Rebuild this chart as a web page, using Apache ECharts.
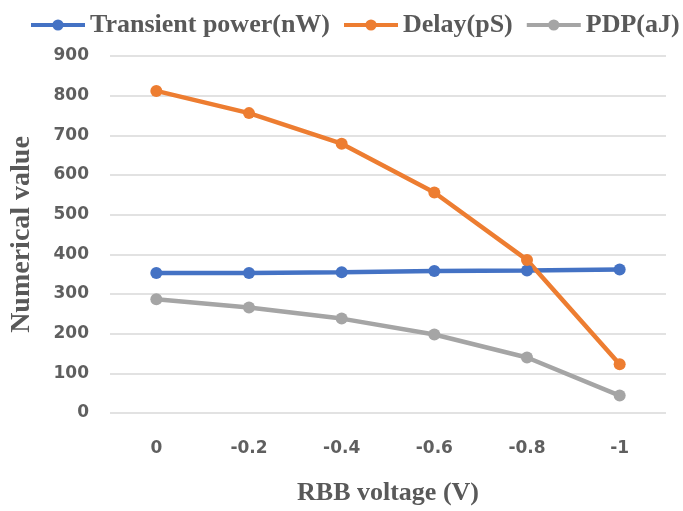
<!DOCTYPE html>
<html>
<head>
<meta charset="utf-8">
<script src="https://cdn.jsdelivr.net/npm/echarts@6/dist/echarts.min.js"></script>
<style>
  html, body { margin: 0; padding: 0; background: #fff; }
  #chart { width: 683px; height: 511px; }
</style>
</head>
<body>
<div id="chart"></div>
<script>
// Reverse body bias voltage sweep
const voltages = ['0', '-0.2', '-0.4', '-0.6', '-0.8', '-1'];
const transientPower = [353, 353, 355, 358, 359, 362];
const delay = [812, 756, 679, 556, 386, 123];
const pdp = [287, 266, 238, 198, 140, 44];

const serif = '"Liberation Serif", "Times New Roman", serif';
const sans = '"DejaVu Sans", sans-serif';
const textGrey = '#595959';

function lineSeries(name, data, color) {
  return {
    name: name,
    type: 'line',
    data: data,
    symbol: 'circle',
    symbolSize: 12,
    lineStyle: { width: 4.5, color: color },
    itemStyle: { color: color },
    emphasis: { disabled: true }
  };
}

const chart = echarts.init(document.getElementById('chart'));
chart.setOption({
  animation: false,
  color: ['#4472C4', '#ED7D31', '#A5A5A5'],
  legend: {
    left: 24,
    top: 7,
    width: 670,
    padding: 5,
    itemWidth: 54,
    itemHeight: 14,
    itemGap: 12,
    lineStyle: { width: 4 },
    textStyle: { fontFamily: serif, fontSize: 26, color: textGrey, fontWeight: 'bold' },
    data: ['Transient power(nW)', 'Delay(pS)', 'PDP(aJ)']
  },
  grid: { left: 110, right: 17, top: 56, bottom: 96 },
  xAxis: {
    type: 'category',
    data: voltages,
    boundaryGap: true,
    name: 'RBB voltage (V)',
    nameLocation: 'middle',
    nameGap: 67,
    nameTextStyle: { fontFamily: serif, fontSize: 26, fontWeight: 'bold', color: textGrey },
    axisLine: { show: false },
    axisTick: { show: false },
    axisLabel: { fontFamily: sans, fontSize: 17, fontWeight: 'bold', color: '#5f5f5f', margin: 27 }
  },
  yAxis: {
    type: 'value',
    min: 0,
    max: 900,
    interval: 100,
    name: 'Numerical value',
    nameLocation: 'middle',
    nameGap: 74,
    nameTextStyle: { fontFamily: serif, fontSize: 28, fontWeight: 'bold', color: textGrey },
    axisLine: { show: false },
    axisTick: { show: false },
    axisLabel: { fontFamily: sans, fontSize: 17, fontWeight: 'bold', color: '#5f5f5f', margin: 21 },
    splitLine: { lineStyle: { color: '#d9d9d9', width: 1.5 } }
  },
  series: [
    lineSeries('Transient power(nW)', transientPower, '#4472C4'),
    lineSeries('Delay(pS)', delay, '#ED7D31'),
    lineSeries('PDP(aJ)', pdp, '#A5A5A5')
  ]
});
</script>
</body>
</html>
